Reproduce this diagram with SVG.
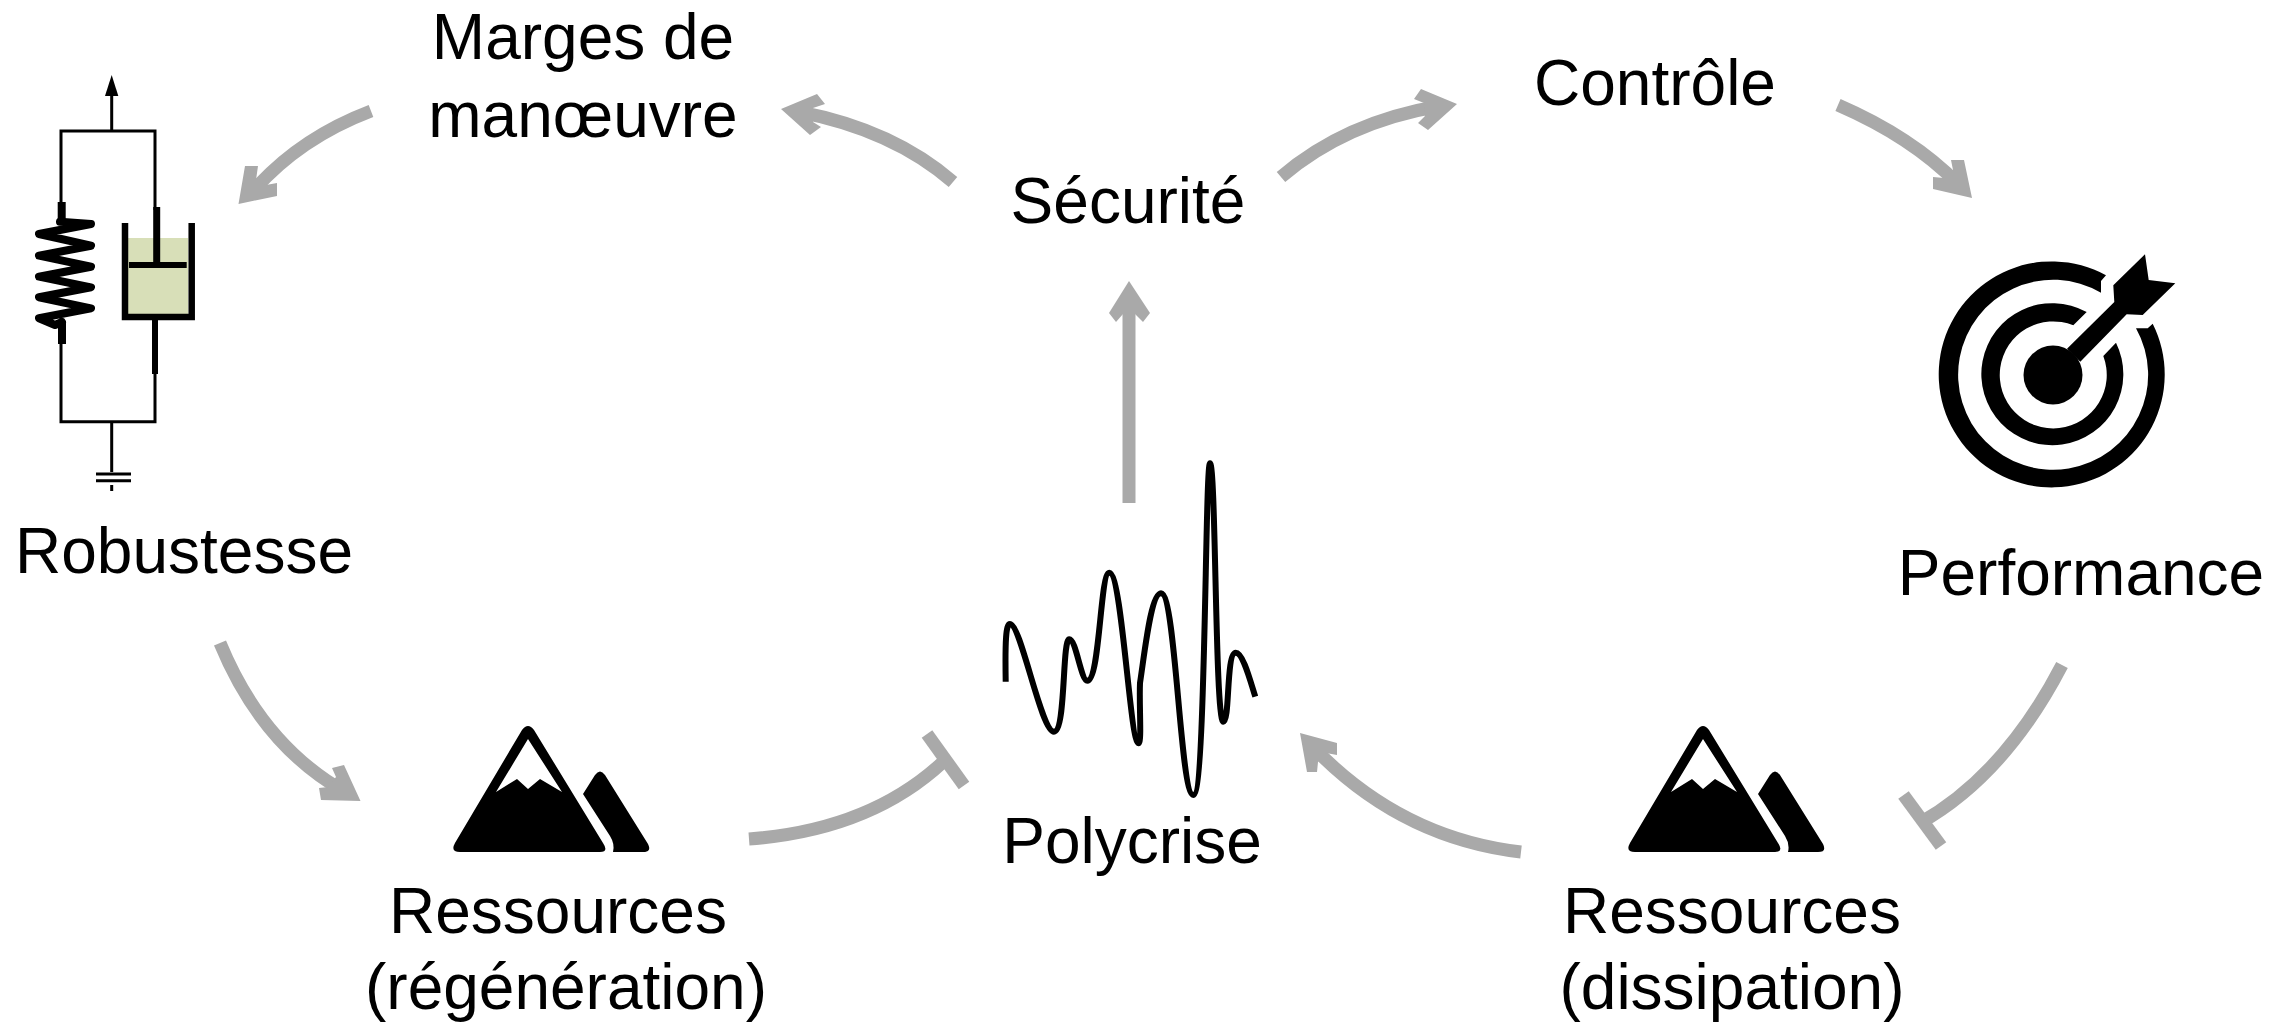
<svg xmlns="http://www.w3.org/2000/svg" width="2293" height="1031" viewBox="0 0 2293 1031">
<style>
text{font-family:"Liberation Sans",Arial,sans-serif;font-size:64px;fill:#000;text-anchor:middle}
.c{fill:none;stroke:#a9a9a9;stroke-width:13}
.h{fill:#a9a9a9}
.w{fill:none;stroke:#000;stroke-width:3}
</style>
<defs>
<g id="mountain">
<path d="M522 730 Q528 722 534 730 L603 843 Q609 852 600 852 L460 852 Q450 852 455 843 Z" fill="#000"/>
<path d="M528 739 L562 792 L540 779 L528 789 L517 779 L496 792Z" fill="#fff"/>
<path d="M583 794 L595 775 Q600 768 605 775 L648 844 Q652 852 643 852 L613 852 Q615 844 610 836 Z" fill="#000"/>
</g>
</defs>
<rect width="2293" height="1031" fill="#fff"/>
<g id="connectors">
<path class="c" d="M371 111 Q300 138 254 190"/><polygon class="h" points="238.500,204 245,166 258,166 256,180 266,185 277,183 277,196"/>
<path class="c" d="M953 182 Q893 130 800 112"/><polygon class="h" points="781,109 817,94 825,104 813,108 813,122 821,127 810,135"/>
<path class="c" d="M1281 177 Q1345 122 1440 106"/><polygon class="h" points="1457,104 1421,89 1414,99 1424,103 1425,116 1418,123 1428,130"/>
<path class="c" d="M1838 105 Q1912 137 1958 184"/><polygon class="h" points="1972,198 1964,160 1951,160 1953,170 1944,178 1933,177 1933,189"/>
<path class="c" d="M1129 503 V300"/><polygon class="h" points="1129,281 1109,313 1116,322 1123,314 1135,314 1143,322 1150,313"/>
<path class="c" d="M220 643 Q262 745 345 792"/><polygon class="h" points="360.500,801 344,765 332,768 336,777 328,787 319,788 321,800"/>
<path class="c" d="M749 839 Q870 830 943 762"/><path class="c" d="M927 734 L964 785.500"/>
<path class="c" d="M2062 665 Q2005 775 1920 823"/><path class="c" d="M1903.500 795 L1941 846"/>
<path class="c" d="M1521 852 Q1400 838 1312 746"/><polygon class="h" points="1300,733 1337,743 1337,755 1326,753 1318,762 1317,772 1307,772"/>
</g>
<g id="robustesse">
<path class="w" d="M61 205 V131 H155 V210 M111.700 131 V90 M61 340 V421.700 H155 V370 M111.700 421.700 V472"/>
<path d="M111.700 75 L105 96 H118.300Z" fill="#000"/>
<path d="M96 474 H131 M96 480.700 H131 M111.700 485 V491" fill="none" stroke="#000" stroke-width="3"/>
<rect x="128" y="238" width="60" height="77" fill="#d8dfb8"/>
<path d="M125 223 V317 H191.700 V223" fill="none" stroke="#000" stroke-width="6.500"/>
<path d="M129 265 H186.700" stroke="#000" stroke-width="6"/>
<path d="M156.700 207 V265" stroke="#000" stroke-width="7"/>
<path d="M155 320 V374" stroke="#000" stroke-width="6"/>
<path d="M61.700 202 V222" stroke="#000" stroke-width="8"/>
<path d="M62 322 V344" stroke="#000" stroke-width="8"/>
<path d="M60 221.700 L91 224 L39 234 L91 245.700 L39 255.700 L91 266.700 L39 276.700 L91 287.300 L39 297.300 L91 308.300 L39 318.300 L55 325 L62 322" fill="none" stroke="#000" stroke-width="8" stroke-linejoin="round" stroke-linecap="round"/>
</g>
<g id="performance" transform="translate(1 1)">
<path d="M2105 274.300 A113 113 0 1 0 2151.700 322.700 L2146.700 327.300 L2135 327.300 A95 95 0 1 1 2100 291.700 L2100 280Z" fill="#000"/>
<path d="M2085.700 311 A71 71 0 1 0 2115 341.700 L2102.300 355 A53.500 53.500 0 1 1 2072.300 324.300Z" fill="#000"/>
<circle cx="2052" cy="374" r="29.500" fill="#000"/>
<polygon points="2066,347.700 2079.300,360.700 2125.700,313.300 2141.700,314 2174.300,282.300 2147.700,279 2144,253.300 2112.300,284.300 2113.300,301" fill="#000"/>
</g>
<g id="polycrise">
<path d="M1005.700 681.700 C1005 640 1006 624 1010 624 C1021 624 1041 731.700 1054 731.700 C1066 731.700 1062 639.300 1069.300 639.300 C1076 639.300 1081 680.700 1087.300 680.700 C1100 680.700 1100 572.700 1109.300 572.700 C1122 572.700 1130 743.300 1138.500 743.300 C1142 743.300 1139 705 1140 683 C1145 650 1151 593.300 1161 593.300 C1176 593.300 1180 795 1193.300 795 C1206 795 1205 463.300 1210 463.300 C1216 463.300 1215 721.700 1223.300 721.700 C1230 721.700 1226 652.700 1235.700 652.700 C1243 652.700 1250 680 1255.300 696.700" fill="none" stroke="#000" stroke-width="6"/>
</g>
<g id="mountain-left"><use href="#mountain"/></g>
<g id="mountain-right"><use href="#mountain" x="1175"/></g>
<g id="labels">
<text x="583" y="59">Marges de</text>
<text x="583" y="137">manœuvre</text>
<text x="1128" y="223">Sécurité</text>
<text x="1655" y="105">Contrôle</text>
<text x="184" y="573">Robustesse</text>
<text x="2081" y="595">Performance</text>
<text x="1132" y="863">Polycrise</text>
<text x="558" y="933">Ressources</text>
<text x="566" y="1009">(régénération)</text>
<text x="1732" y="933">Ressources</text>
<text x="1732" y="1009">(dissipation)</text>
</g>
</svg>
